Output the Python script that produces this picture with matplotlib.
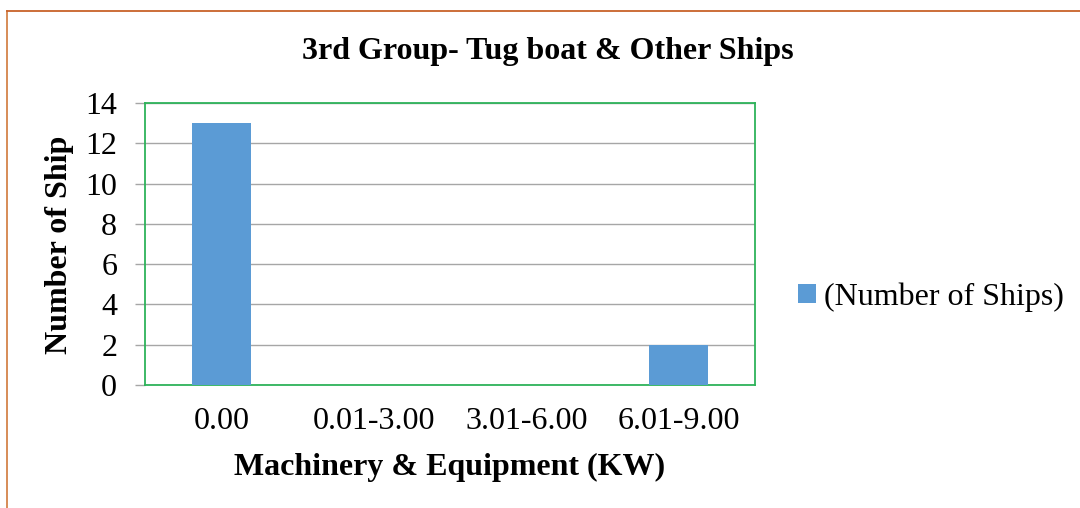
import numpy as np
import matplotlib.pyplot as plt

plt.rcParams['font.family'] = ['Liberation Serif', 'DejaVu Serif']

categories = ["0.00", "0.01-3.00", "3.01-6.00", "6.01-9.00"]
ships = [13, 0, 0, 2]
y_ticks = [0, 2, 4, 6, 8, 10, 12, 14]

W, H = 1080, 508
fs = 23

fig = plt.figure(figsize=(W / 100, H / 100), dpi=100)
ax = fig.add_axes([145 / W, 1 - 385 / H, 610 / W, 282 / H])

x = np.arange(len(categories))
ax.bar(x, ships, width=0.39, color="#5B9BD5", label="(Number of Ships)", zorder=3)

ax.set_xlim(-0.5, len(categories) - 0.5)
ax.set_ylim(0, 14)
ax.set_yticks(y_ticks)
ax.set_xticks(x)
ax.set_xticklabels(categories)
ax.yaxis.grid(True, color="#a6a6a6", linewidth=1, zorder=0)
ax.tick_params(axis="x", length=0, labelsize=fs, pad=16)
ax.tick_params(axis="y", length=7, width=1, color="#a6a6a6", labelsize=fs, pad=13)

for s in ax.spines.values():
    s.set_color("#2eb35a")
    s.set_linewidth(1.3)

fig.text(548 / W, 1 - 52 / H, "3rd Group- Tug boat & Other Ships", fontsize=fs,
         fontweight="bold", ha="center", va="center")
fig.text(450 / W, 1 - 467 / H, "Machinery & Equipment (KW)", fontsize=fs,
         fontweight="bold", ha="center", va="center")
fig.text(60 / W, 1 - 245 / H, "Number of Ship", fontsize=fs, fontweight="bold",
         ha="center", va="center", rotation=90)

ax.legend(loc="center left", bbox_to_anchor=(798 / W, 1 - 297 / H),
          bbox_transform=fig.transFigure, frameon=False, fontsize=fs,
          handlelength=0.55, handleheight=0.55, handletextpad=0.25,
          borderaxespad=0, borderpad=0)

# outer chart border (only top and left edges show in the crop)
fig.add_artist(plt.Line2D([7 / W, 7 / W], [0, 1 - 11 / H], color="#d4834a", linewidth=1.3))
fig.add_artist(plt.Line2D([7 / W, 1], [1 - 11 / H, 1 - 11 / H], color="#c8622a", linewidth=1.3))

fig.savefig("out.png", dpi=100)
